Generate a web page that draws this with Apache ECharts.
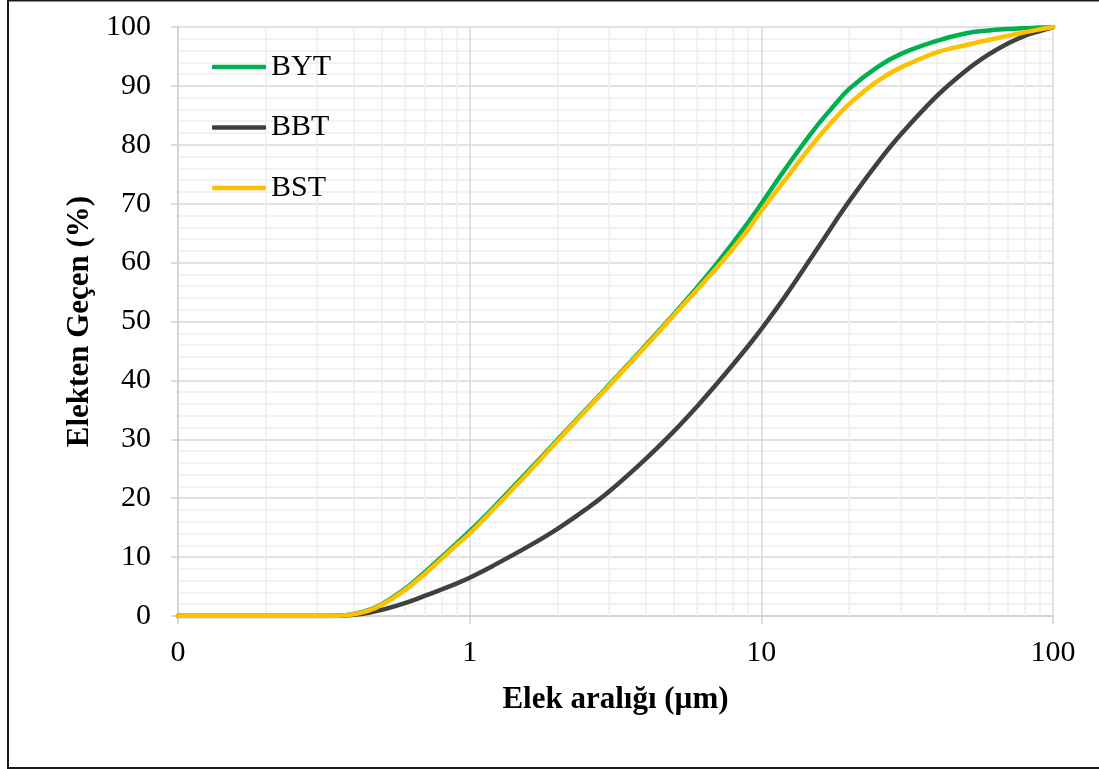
<!DOCTYPE html>
<html>
<head>
<meta charset="utf-8">
<script src="https://cdn.jsdelivr.net/npm/echarts@6/dist/echarts.min.js"></script>
<style>
  html, body { margin: 0; padding: 0; background: #fff; }
  #chart { width: 1099px; height: 769px; }
</style>
</head>
<body>
<div id="chart"></div>
<script>
// Sieve sizes (µm) and cumulative passing (%) for each sample
const sizes = [0.1, 0.15, 0.2, 0.25, 0.3, 0.35, 0.4, 0.45, 0.5, 0.6, 0.7, 0.8, 0.9, 1, 1.2, 1.6, 2, 2.5, 3, 4, 5, 6, 7, 8, 9, 10, 12, 15, 18, 20, 25, 30, 40, 50, 60, 70, 80, 90, 100];
const byt = [0, 0, 0, 0, 0, 0.05, 0.35, 1.0, 2.0, 4.6, 7.4, 10.0, 12.3, 14.4, 18.3, 24.8, 29.9, 35.0, 39.2, 45.9, 51.2, 55.7, 59.7, 63.4, 66.8, 70.0, 75.7, 82.3, 87.0, 89.5, 93.2, 95.4, 97.65, 98.9, 99.4, 99.65, 99.8, 99.9, 100];
const bbt = [0, 0, 0, 0, 0, 0, 0.2, 0.55, 1.05, 2.2, 3.4, 4.5, 5.5, 6.5, 8.5, 11.9, 14.8, 18.1, 21.1, 26.6, 31.3, 35.5, 39.3, 42.7, 45.8, 48.7, 54.1, 61.2, 67.1, 70.4, 76.9, 81.7, 88.3, 92.5, 95.3, 97.2, 98.5, 99.3, 100];
const bst = [0, 0, 0, 0, 0, 0.05, 0.3, 0.9, 1.9, 4.4, 7.1, 9.7, 12.0, 14.0, 18.0, 24.5, 29.7, 34.85, 39.05, 45.7, 51.0, 55.3, 59.0, 62.4, 65.6, 68.8, 73.9, 80.1, 84.6, 86.9, 90.8, 93.1, 95.7, 96.9, 97.8, 98.5, 99.1, 99.6, 100];

const seriesNames = ['BYT', 'BBT', 'BST'];
const seriesColors = ['#00B050', '#404040', '#FFC000'];

// Tick labels for the decades 0.1, 1, 10, 100
const xTickLabels = ['0', '1', '10', '100'];
// Intermediate log gridlines inside each decade
const gridMinorX = [0.2, 0.3, 0.4, 0.5, 0.6, 0.7, 0.8, 0.9, 2, 3, 4, 5, 6, 7, 8, 9, 20, 30, 40, 50, 60, 70, 80, 90];

const xTitle = 'Elek aralığı (µm)';
const yTitle = 'Elekten Geçen (%)';

const FONT = '"Liberation Serif", "Times New Roman", serif';
const pairs = (ys) => sizes.map((x, i) => [x, ys[i]]);

const chart = echarts.init(document.getElementById('chart'), null, { renderer: 'canvas' });

const dataSeries = [byt, bbt, bst].map((ys, i) => ({
  name: seriesNames[i],
  type: 'line',
  data: pairs(ys),
  symbol: 'none',
  smooth: 0.4,
  z: 3 + i,
  lineStyle: { color: seriesColors[i], width: 4.5, cap: 'round', join: 'round' },
  itemStyle: { color: seriesColors[i] }
}));

chart.setOption({
  animation: false,
  backgroundColor: '#fff',
  textStyle: { fontFamily: FONT },
  grid: { left: 178, right: 46, top: 27, bottom: 153, containLabel: false },
  legend: {
    data: seriesNames,
    orient: 'vertical',
    left: 212,
    top: 52,
    padding: 0,
    icon: 'roundRect',
    itemWidth: 54,
    itemHeight: 4.5,
    itemGap: 30.5,
    textStyle: { fontFamily: FONT, fontSize: 30, color: '#000', lineHeight: 30 },
    selectedMode: false
  },
  xAxis: {
    type: 'log',
    logBase: 10,
    min: 0.1,
    max: 100,
    name: xTitle,
    nameLocation: 'middle',
    nameGap: 68,
    nameTextStyle: { fontFamily: FONT, fontSize: 31, fontWeight: 'bold', color: '#000' },
    axisLine: { show: true, lineStyle: { color: '#d0d0d0', width: 1.5 } },
    axisTick: { show: true, length: 8, lineStyle: { color: '#d0d0d0', width: 1.5 } },
    axisLabel: {
      fontFamily: FONT, fontSize: 30, color: '#000', margin: 22,
      formatter: (v) => xTickLabels[Math.round(Math.log10(v)) + 1]
    },
    splitLine: { show: true, lineStyle: { color: '#d9d9d9', width: 1.5 } },
    minorTick: { show: false },
    minorSplitLine: { show: false }
  },
  yAxis: {
    type: 'value',
    min: 0,
    max: 100,
    interval: 10,
    name: yTitle,
    nameLocation: 'middle',
    nameGap: 80,
    nameTextStyle: { fontFamily: FONT, fontSize: 31, fontWeight: 'bold', color: '#000' },
    axisLine: { show: true, lineStyle: { color: '#d0d0d0', width: 1.5 } },
    axisTick: { show: true, length: 7, lineStyle: { color: '#d0d0d0', width: 1.5 } },
    axisLabel: { fontFamily: FONT, fontSize: 30, color: '#000', margin: 27 },
    splitLine: { show: true, lineStyle: { color: '#d9d9d9', width: 1.5 } },
    minorTick: { show: false, splitNumber: 5 },
    minorSplitLine: { show: true, lineStyle: { color: '#eeeeee', width: 1.5 } }
  },
  graphic: [{
    type: 'rect',
    silent: true,
    shape: { x: 8, y: 0.5, width: 1200, height: 767.5 },
    style: { fill: null, stroke: '#1a1a1a', lineWidth: 2 },
    z: 100
  }],
  series: [{
    name: 'minor-grid',
    type: 'line',
    data: [],
    silent: true,
    z: 1,
    markLine: {
      z: 1,
      silent: true,
      symbol: ['none', 'none'],
      label: { show: false },
      emphasis: { disabled: true },
      lineStyle: { color: '#eeeeee', width: 1.5, type: 'solid' },
      data: gridMinorX.map((v) => ({ xAxis: v }))
    }
  }].concat(dataSeries)
});
</script>
</body>
</html>
